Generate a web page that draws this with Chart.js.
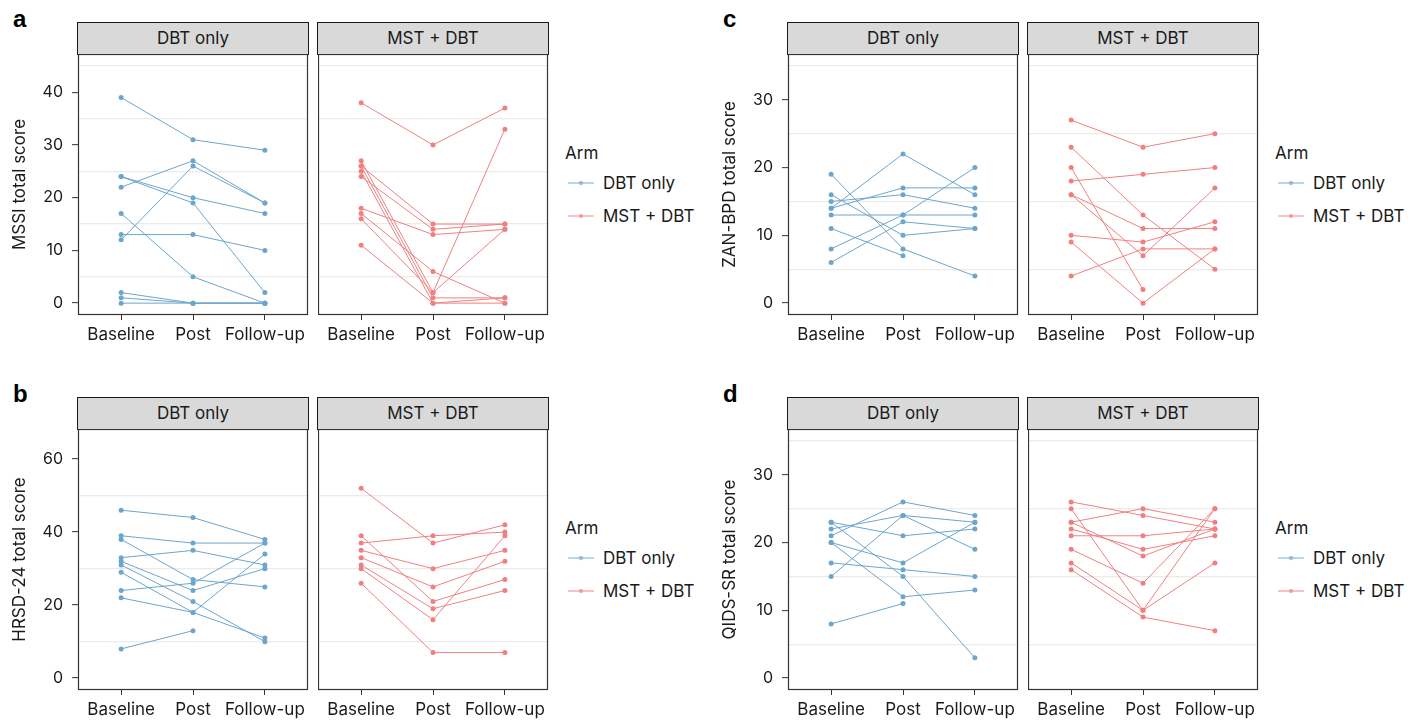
<!DOCTYPE html>
<html>
<head>
<meta charset="utf-8">
<script src="https://cdn.jsdelivr.net/npm/chart.js@4"></script>
<style>
  body { margin: 0; background: #fff; }
  #fig { position: relative; width: 1411px; height: 722px; overflow: hidden; font-family: Inter, "Noto Sans", sans-serif; color: #1a1a1a; }
  #fig canvas { position: absolute; }
  .strip { position: absolute; width: 232px; height: 33px; box-sizing: border-box; background: #d9d9d9; border: 1px solid #1a1a1a; font-size: 17px; line-height: 31px; text-align: center; }
  .letter { position: absolute; font: bold 24px "Liberation Sans", Arial, sans-serif; line-height: 24px; color: #000; }
  .leg { position: absolute; font-size: 17px; line-height: 20px; white-space: nowrap; }
  .key { position: absolute; }
</style>
</head>
<body>
<div id="fig"></div>
<script>
const timepoints = ['Baseline', 'Post', 'Follow-up'];
const arms = ['DBT only', 'MST + DBT'];
const armColors = ['#6CA6CD', '#F08080'];
const keyColors = ['rgba(108,166,205,0.6)', 'rgba(240,128,128,0.6)'];

// one row per participant: baseline, post, follow-up
const mssiDbt = [[39,31,29],[24,20,17],[24,19,2],[22,27,19],[12,26,19],[17,5,0],[13,13,10],[2,0,0],[1,0,0],[0,0,0]];
const mssiMst = [[38,30,37],[27,2,33],[26,15,15],[25,0,0],[24,14,15],[26,1,1],[18,13,14],[17,6,0],[16,2,14],[11,0,1]];
const zanDbt = [[19,8,4],[16,10,11],[15,16,14],[14,17,17],[14,22,16],[13,13,13],[11,7,null],[8,13,20],[6,12,11]];
const zanMst = [[27,23,25],[23,13,5],[20,2,null],[18,19,20],[16,11,11],[16,7,17],[10,9,12],[9,0,8],[4,8,8]];
const hrsdDbt = [[46,44,38],[39,37,37],[38,27,25],[33,35,31],[32,24,30],[31,21,10],[29,18,11],[24,26,37],[22,18,34],[8,13,null]];
const hrsdMst = [[52,37,42],[37,39,40],[39,21,27],[35,30,35],[33,25,32],[31,19,24],[30,16,39],[26,7,7]];
const qidsDbt = [[23,21,22],[23,15,3],[21,26,24],[22,24,19],[20,17,23],[20,12,13],[17,16,15],[15,24,23],[8,11,null]];
const qidsMst = [[26,24,22],[25,10,25],[23,25,23],[22,19,21],[21,21,22],[19,14,25],[17,10,17],[16,9,7],[23,18,22]];

const mssiTicks = [0,10,20,30,40], mssiGrid = [5,15,25,35,45], mssiLimits = [0,45];
const zanTicks = [0,10,20,30], zanGrid = [5,15,25,35], zanLimits = [0,35];
const hrsdTicks = [0,20,40,60], hrsdGrid = [10,30,50], hrsdLimits = [0,65];
const qidsTicks = [0,10,20,30], qidsGrid = [5,15,25,35], qidsLimits = [0,35];

const panels = [
  { letter: 'a', title: 'MSSI total score', ox: 78, oy: 22, series: [mssiDbt, mssiMst], ticks: mssiTicks, grid: mssiGrid, lim: mssiLimits },
  { letter: 'c', title: 'ZAN-BPD total score', ox: 788, oy: 22, series: [zanDbt, zanMst], ticks: zanTicks, grid: zanGrid, lim: zanLimits },
  { letter: 'b', title: 'HRSD-24 total score', ox: 78, oy: 397, series: [hrsdDbt, hrsdMst], ticks: hrsdTicks, grid: hrsdGrid, lim: hrsdLimits },
  { letter: 'd', title: 'QIDS-SR total score', ox: 788, oy: 397, series: [qidsDbt, qidsMst], ticks: qidsTicks, grid: qidsGrid, lim: qidsLimits },
];

const FONT = { family: 'Inter, "Noto Sans", sans-serif', size: 17 };
const TXT = '#1a1a1a';
const fig = document.getElementById('fig');

function add(tag, cls, css, text) {
  const e = document.createElement(tag);
  if (cls) e.className = cls;
  Object.assign(e.style, css);
  if (text != null) e.textContent = text;
  fig.appendChild(e);
  return e;
}

const panelBorder = {
  id: 'panelBorder',
  afterDraw(chart) {
    const { ctx, chartArea: a } = chart;
    ctx.save();
    ctx.strokeStyle = '#333';
    ctx.lineWidth = 1.2;
    ctx.strokeRect(a.left + 0.5, a.top + 0.5, a.right - a.left - 1, a.bottom - a.top - 1);
    ctx.restore();
  }
};

panels.forEach(p => {
  add('div', 'letter', { left: (p.ox - 65) + 'px', top: (p.oy - 15) + 'px' }, p.letter);

  // legend
  add('div', 'leg', { left: (p.ox + 487) + 'px', top: (p.oy + 121) + 'px' }, 'Arm');
  arms.forEach((arm, k) => {
    const cy = p.oy + 161 + k * 33;
    const svg = document.createElementNS('http://www.w3.org/2000/svg', 'svg');
    svg.setAttribute('width', 26); svg.setAttribute('height', 10);
    svg.setAttribute('class', 'key');
    svg.style.left = (p.ox + 490) + 'px'; svg.style.top = (cy - 5) + 'px';
    svg.innerHTML = `<line x1="0" y1="5" x2="26" y2="5" stroke="${keyColors[k]}" stroke-width="1.6"/><circle cx="13" cy="5" r="2.2" fill="${keyColors[k]}"/>`;
    fig.appendChild(svg);
    add('div', 'leg', { left: (p.ox + 525) + 'px', top: (cy - 10) + 'px' }, arm);
  });

  const span = p.lim[1] - p.lim[0];
  const ymin = p.lim[0] - span * 0.05, ymax = p.lim[1] + span * 0.05;
  const allTicks = [...p.ticks, ...p.grid].sort((a, b) => a - b);

  arms.forEach((arm, k) => {
    const left = p.ox + k * 240;
    add('div', 'strip', { left: (left - 1) + 'px', top: p.oy + 'px' }, arm);

    const yw = k === 0 ? 78 : 0;
    const cv = add('canvas', null, { left: (left - yw) + 'px', top: (p.oy + 32) + 'px' });
    cv.width = yw + 231;
    cv.height = 261 + 38;

    new Chart(cv, {
      type: 'line',
      data: {
        datasets: p.series[k].map(row => ({
          data: row.map((v, i) => ({ x: i + 1, y: v })).filter(d => d.y != null),
          borderColor: armColors[k],
          backgroundColor: armColors[k],
          borderWidth: 1,
          pointRadius: 2.5, pointHoverRadius: 2.5, pointBorderWidth: 0,
          tension: 0,
        }))
      },
      options: {
        responsive: false, animation: false, devicePixelRatio: 1, events: [],
        layout: { autoPadding: false, padding: { top: 0, right: 1, bottom: 0, left: 0 } },
        plugins: { legend: { display: false }, tooltip: { enabled: false } },
        scales: {
          x: {
            type: 'linear', min: 0.4, max: 3.6,
            afterBuildTicks: s => { s.ticks = timepoints.map((t, i) => ({ value: i + 1 })); },
            afterFit: s => { s.height = 38; s.paddingLeft = 0; s.paddingRight = 0; },
            border: { display: false },
            grid: { drawOnChartArea: false, drawTicks: true, tickLength: 5, tickColor: '#333', tickWidth: 1 },
            ticks: { callback: v => timepoints[v - 1], padding: 5, font: FONT, color: TXT, maxRotation: 0, autoSkip: false }
          },
          y: {
            type: 'linear', min: ymin, max: ymax,
            afterBuildTicks: s => { s.ticks = allTicks.map(v => ({ value: v })); },
            afterFit: s => { s.width = yw; s.paddingTop = 0; s.paddingBottom = 0; },
            border: { display: false },
            grid: {
              color: c => (c.tick && p.grid.includes(c.tick.value)) ? '#ebebeb' : 'rgba(0,0,0,0)',
              lineWidth: 1.3,
              drawTicks: k === 0, tickLength: 6, tickWidth: 1,
              tickColor: c => (c.tick && p.ticks.includes(c.tick.value)) ? '#333' : 'rgba(0,0,0,0)'
            },
            ticks: { display: k === 0, callback: v => p.ticks.includes(v) ? String(v) : '', padding: 9, font: { ...FONT, size: 16 }, color: TXT },
            title: { display: k === 0, text: p.title, font: FONT, color: TXT, padding: { top: 10, bottom: 0 } }
          }
        }
      },
      plugins: [panelBorder]
    });
  });
});
</script>
</body>
</html>
